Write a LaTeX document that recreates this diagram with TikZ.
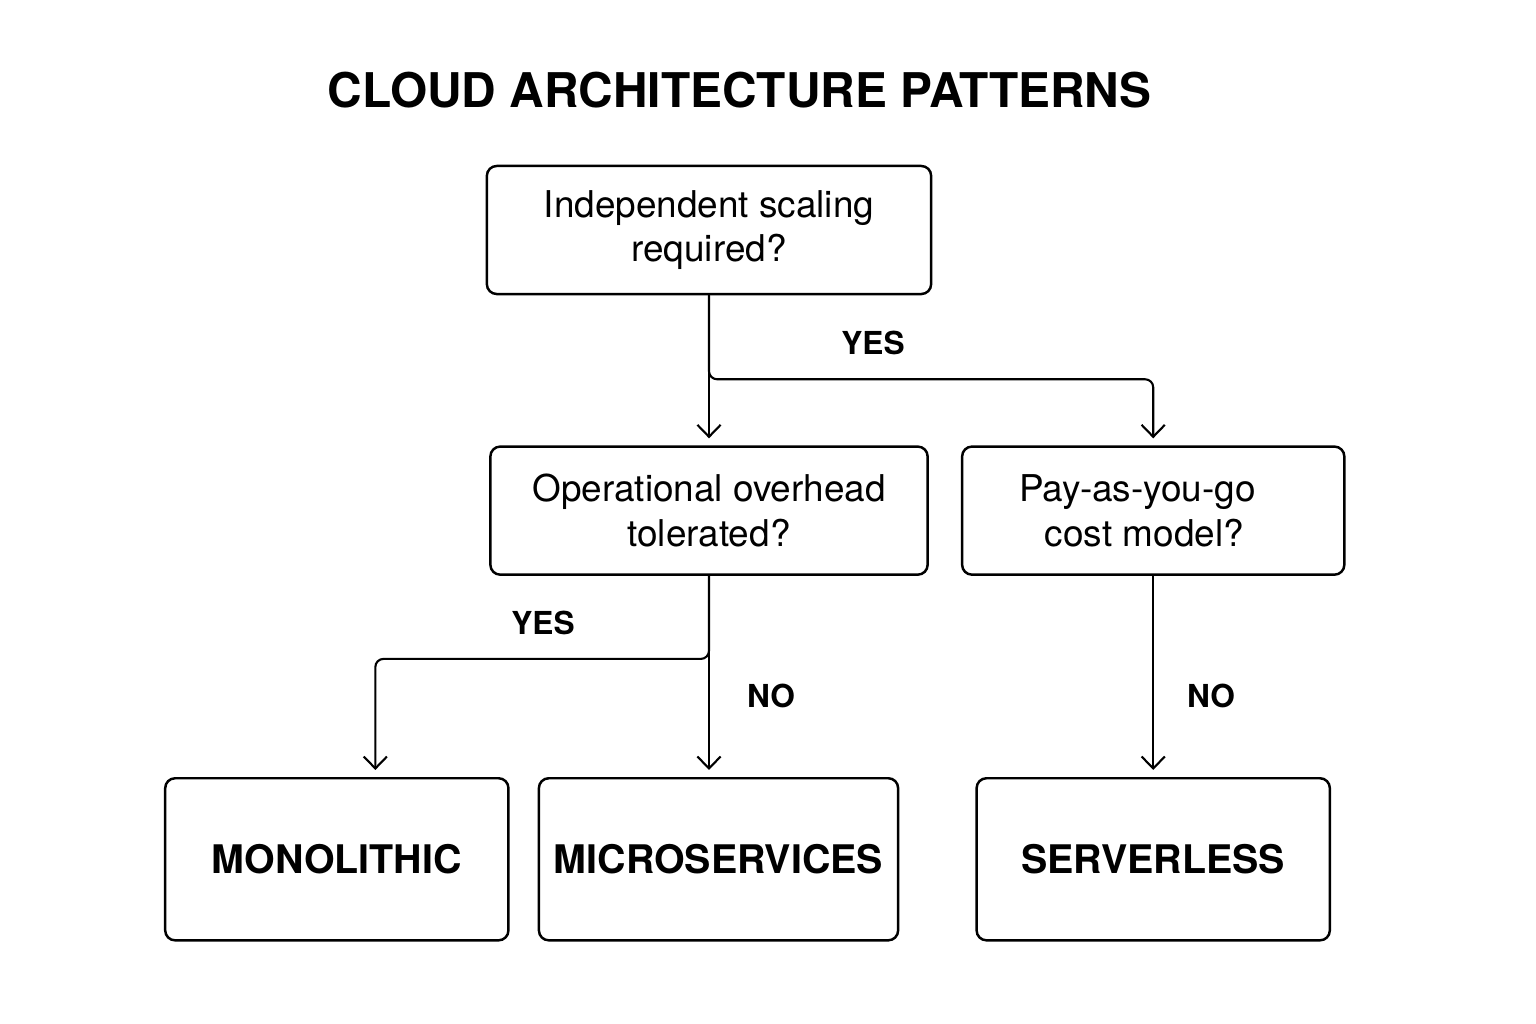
\documentclass[tikz,border=0pt]{standalone}
\usepackage{fontspec}
\setmainfont{TeX Gyre Heros}
\usetikzlibrary{positioning,arrows.meta}

\tikzset{
  decision/.style={draw, line width=0.7pt, rounded corners=2.8pt, align=center,
    minimum height=1.28cm, font=\fontsize{10.5}{12.7}\selectfont},
  outcome/.style={draw, line width=0.7pt, rounded corners=2.8pt,
    minimum height=1.62cm, font=\bfseries\fontsize{11.2}{13}\selectfont},
  answer/.style={font=\bfseries\fontsize{9}{11}\selectfont},
  flow/.style={line width=0.6pt, -{Straight Barb[length=3.4pt,width=6.6pt]}, shorten >=2pt},
}

\begin{document}
\begin{tikzpicture}[x=0.01cm, y=-0.01cm]
  \useasboundingbox (0,0) rectangle (1536,1024);

  \node[font=\bfseries\fontsize{13.6}{16}\selectfont] (title) at (739.5,90) {CLOUD ARCHITECTURE PATTERNS};

  \node[decision, minimum width=4.44cm] (scaling) at (709,230) {Independent scaling\\required?}; %
  \node[decision, minimum width=4.37cm, below=1.5cm of scaling] (overhead) {Operational overhead\\tolerated?}; %
  \node[decision, minimum width=3.82cm, right=0.32cm of overhead] (payg) {Pay-as-you-go\kern9pt\\cost model?\kern5pt}; %

  \node[outcome, minimum width=3.59cm, below=2.01cm of overhead, xshift=0.095cm] (micro) {MICROSERVICES}; %
  \node[outcome, minimum width=3.43cm, left=0.28cm of micro] (mono) {MONOLITHIC}; %
  \node[outcome, minimum width=3.53cm, below=2.01cm of payg] (serverless) {SERVERLESS}; %

  \draw[flow] (scaling.south) -- (scaling.south |- overhead.north);
  \draw[flow, rounded corners=2.3pt] (scaling.south) -- ++(0,84) -| (payg.north);
  \draw[flow] (overhead.south) -- (overhead.south |- micro.north);
  \draw[flow, rounded corners=2.3pt] (overhead.south) -- ++(0,83) -| ([xshift=0.385cm]mono.north);
  \draw[flow] (payg.south) -- (serverless.north);

  \node[answer] (yes-top) at (873,343) {YES};
  \node[answer] (yes-left) at (543,623) {YES};
  \node[answer] (no-mid) at (771,696) {NO};
  \node[answer] (no-right) at (1211,696) {NO};

\end{tikzpicture}
\end{document}
